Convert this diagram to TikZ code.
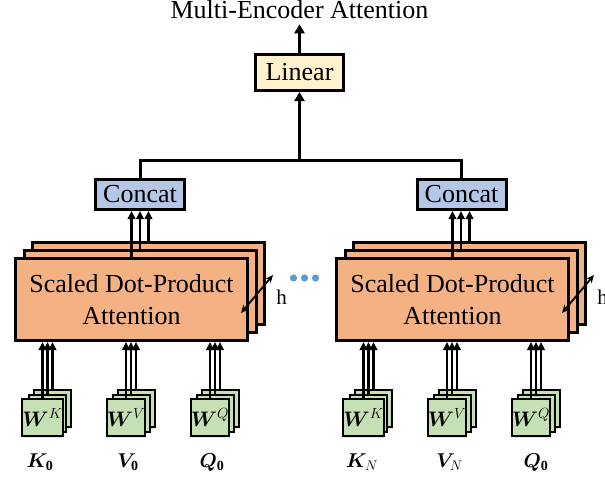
\RequirePackage{fix-cm}
\documentclass[tikz,border=0pt]{standalone}
\usepackage{fontspec}
\setmainfont{Liberation Serif}
\usepackage{bm}
\usetikzlibrary{arrows.meta,shadows}
\definecolor{linfill}{HTML}{FFF2CC}
\definecolor{catfill}{HTML}{B4C7E7}
\definecolor{attfill}{HTML}{F4B183}
\definecolor{wfill}{HTML}{C5E0B4}
\definecolor{dotblue}{HTML}{5B9BD5}
\begin{document}
\begin{tikzpicture}[x=1pt,y=-1pt,
  every node/.style={inner sep=0pt, outer sep=0pt},
  bigfont/.style={font=\fontsize{26}{32.5}\selectfont},
  wfont/.style={font=\fontsize{21}{24}\selectfont},
  lblfont/.style={font=\fontsize{20}{24}\selectfont},
  boxshadow/.style={drop shadow={opacity=0.22, shadow xshift=0.8pt, shadow yshift=-1.8pt}},
  linbox/.style={draw, line width=3pt, outer sep=1.5pt, fill=linfill,
    minimum width=88pt, minimum height=36pt, bigfont, boxshadow},
  catbox/.style={draw, line width=3pt, outer sep=1.5pt, fill=catfill,
    minimum width=89pt, minimum height=30pt, bigfont, boxshadow},
  attbox/.style={draw, line width=3pt, outer sep=1.5pt, fill=attfill,
    minimum width=232pt, minimum height=82pt, bigfont, align=center, boxshadow},
  wbox/.style={draw, line width=2pt, outer sep=1pt, fill=wfill,
    minimum width=37pt, minimum height=37pt, wfont, boxshadow},
  lbl/.style={lblfont, anchor=base},
  bigarr/.style={line width=3pt, -{Triangle[length=9pt,width=10pt]}},
  arr/.style={line width=2.2pt, -{Triangle[length=8pt,width=7.5pt]}},
  harr/.style={line width=1.8pt, {Stealth[length=8pt,width=7pt]}-{Stealth[length=8pt,width=7pt]}},
  wire/.style={line width=3pt}
]
\useasboundingbox (0,0) rectangle (605,479);

% output title and linear layer
\node[bigfont, anchor=base] (title) at (299.5,19) {Multi-Encoder Attention};
\node[linbox] (lin) at (299.5,72.5) {Linear};
\draw[bigarr] (lin.north) -- ([yshift=-5pt]title.south);

% concat layers
\node[catbox] (c0) at (140,194.5) {Concat};
\node[catbox] (c1) at (461.5,194.5) {Concat};
\coordinate (j) at (299.5,160);
\draw[wire] (c0.north) |- (j) -| (c1.north);
\draw[bigarr] (j) -- (lin.south);

% stacked attention heads
\foreach \g/\cx in {0/131.5, 1/452.5}{
  \node[attbox] (s\g c) at (\cx+17,283.5) {};
  \node[attbox] (s\g b) at (\cx+8.5,291.5) {};
  \node[attbox] (s\g a) at (\cx,299.5) {Scaled Dot-Product\\Attention};
  \draw[arr] (s\g a.north) -- (s\g a.north |- c\g.south);
  \draw[arr] (s\g b.north) -- (s\g b.north |- c\g.south);
  \draw[arr] (s\g c.north) -- (s\g c.north |- c\g.south);
}

% head-count markers
\coordinate (h0s) at (241,313);
\coordinate (h0e) at (273,275);
\coordinate (h1s) at (562,313);
\coordinate (h1e) at (594,275);
\draw[harr] (h0s) -- (h0e);
\draw[harr] (h1s) -- (h1e);
\node[font=\fontsize{21}{24}\selectfont, anchor=base] (hl0) at (281.5,304) {h};
\node[font=\fontsize{21}{24}\selectfont, anchor=base] (hl1) at (602.5,304) {h};

% ellipsis between encoder branches
\foreach \i/\x in {1/293.5, 2/304.5, 3/315.5}{
  \fill[dotblue] (\x,278) circle (3.6pt);
}

% projection matrices
\foreach \n/\cx/\sup/\g in {k0/42.5/K/0, v0/126/V/0, q0/210/Q/0,
                           k1/363.5/K/1, v1/447/V/1, q1/531/Q/1}{
  \node[wbox] (\n c) at (\cx+10,408.5) {};
  \node[wbox] (\n b) at (\cx+5,413) {};
  \node[wbox] (\n a) at (\cx,417.5) {$\bm{W}^{\sup}$};
  \draw[arr] (\n a.north) -- (\n a.north |- s\g a.south);
  \draw[arr] (\n b.north) -- (\n b.north |- s\g a.south);
  \draw[arr] (\n c.north) -- (\n c.north |- s\g a.south);
}

% inputs
\node[lbl] (lk0) at (40,467) {$\bm{K}_{\mathbf{0}}$};
\node[lbl] (lv0) at (128,467) {$\bm{V}_{\mathbf{0}}$};
\node[lbl] (lq0) at (212,467) {$\bm{Q}_{\mathbf{0}}$};
\node[lbl] (lk1) at (362,467) {$\bm{K}_{N}$};
\node[lbl] (lv1) at (449.5,467) {$\bm{V}_{N}$};
\node[lbl] (lq1) at (536,467) {$\bm{Q}_{\mathbf{0}}$};
\end{tikzpicture}
\end{document}
